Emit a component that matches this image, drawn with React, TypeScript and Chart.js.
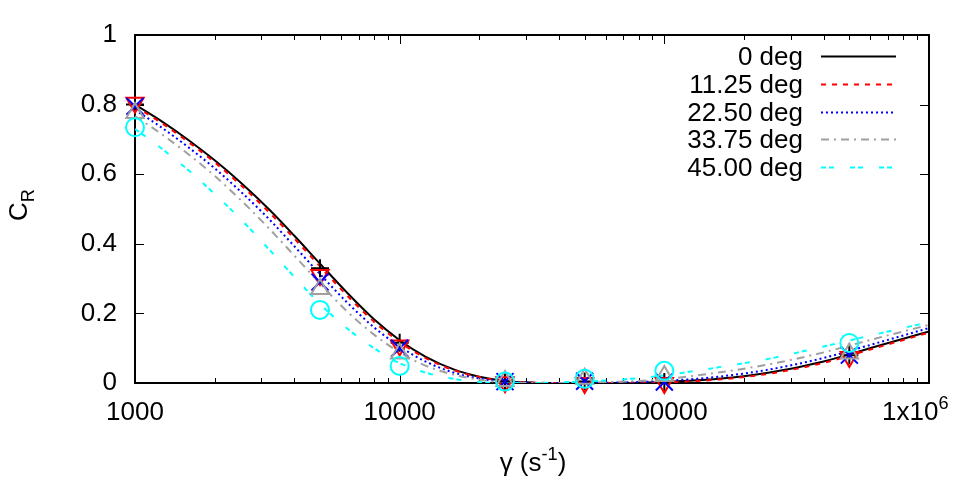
import React, { useEffect, useRef } from 'react';
import { Chart, registerables } from 'chart.js';

Chart.register(...registerables);

const FONT = '"Liberation Sans", Arial, Helvetica, sans-serif';

const SERIES_NAMES = ['0 deg', '11.25 deg', '22.50 deg', '33.75 deg', '45.00 deg'];
const SERIES_COLORS = ['#000000', '#ff0000', '#0000ff', '#a0a0a0', '#00ffff'];

// smooth fitted curves
const CURVE_X = [1000, 1250, 1600, 2000, 2500, 3200, 4000, 5000, 6300, 8000, 10000, 12500, 16000, 20000, 25000, 32000, 40000, 50000, 63000, 80000, 100000, 160000, 250000, 400000, 630000, 1000000];
const CURVE_0 = [0.80, 0.754, 0.697, 0.640, 0.577, 0.500, 0.423, 0.343, 0.261, 0.183, 0.123, 0.076, 0.039, 0.018, 0.006, 0.001, 0.0, 0.0, 0.0, 0.001, 0.003, 0.012, 0.03, 0.062, 0.105, 0.148];
const CURVE_1125 = [0.795, 0.749, 0.691, 0.634, 0.570, 0.492, 0.415, 0.335, 0.253, 0.176, 0.118, 0.072, 0.037, 0.017, 0.005, 0.001, 0.0, 0.0, 0.0, 0.0005, 0.002, 0.010, 0.027, 0.058, 0.101, 0.145];
const CURVE_2250 = [0.785, 0.736, 0.676, 0.617, 0.551, 0.472, 0.393, 0.313, 0.233, 0.160, 0.105, 0.062, 0.030, 0.013, 0.0035, 0.0005, 0.0, 0.0, 0.001, 0.003, 0.006, 0.018, 0.039, 0.072, 0.114, 0.158];
const CURVE_3375 = [0.767, 0.717, 0.656, 0.595, 0.527, 0.445, 0.366, 0.286, 0.207, 0.139, 0.088, 0.050, 0.024, 0.0096, 0.002, 0.0, 0.0, 0.001, 0.003, 0.006, 0.011, 0.030, 0.054, 0.088, 0.128, 0.167];
const CURVE_4500 = [0.730, 0.676, 0.610, 0.543, 0.472, 0.385, 0.305, 0.227, 0.158, 0.100, 0.057, 0.030, 0.012, 0.003, 0.0, 0.0, 0.002, 0.004, 0.008, 0.014, 0.022, 0.045, 0.070, 0.105, 0.140, 0.175];

// measured points
const POINT_X = [1000, 5000, 10000, 25000, 50000, 100000, 500000];
const POINT_0 = [0.80, 0.33, 0.116, 0.004, 0.004, 0.003, 0.08];
const POINT_1125 = [0.805, 0.31, 0.108, 0.002, 0.0, 0.0, 0.075];
const POINT_2250 = [0.795, 0.29, 0.10, 0.004, 0.005, 0.003, 0.08];
const POINT_3375 = [0.776, 0.27, 0.085, 0.006, 0.012, 0.02, 0.085];
const POINT_4500 = [0.735, 0.21, 0.049, 0.004, 0.012, 0.035, 0.115];

const X_TICK_VALUES = [1000, 10000, 100000, 1000000];
const X_TICK_LABELS = ['1000', '10000', '100000', '1x10^6'];
const Y_TICK_VALUES = [0, 0.2, 0.4, 0.6, 0.8, 1];

const X_TITLE = 'γ (s^-1)';
const Y_TITLE = 'C_R';

const CURVES = [CURVE_0, CURVE_1125, CURVE_2250, CURVE_3375, CURVE_4500];
const POINTS = [POINT_0, POINT_1125, POINT_2250, POINT_3375, POINT_4500];
const DASHES: number[][] = [[], [5, 6], [2, 3], [8, 5, 2, 5], [5, 3, 5, 16]];
const MARKERS = ['cross', 'triangle', 'crossRot', 'triangle', 'circle'];
const MARKER_ROT = [0, 180, 0, 0, 0];
const MARKER_R = [9, 10, 12, 10, 9];

type Seg = { t: string; k: '' | 'sup' | 'sub' };
function parseRich(s: string): Seg[] {
  const out: Seg[] = [];
  let i = 0;
  let cur = '';
  while (i < s.length) {
    const c = s[i];
    if (c === '^' || c === '_') {
      if (cur) out.push({ t: cur, k: '' });
      cur = '';
      let j = i + 1;
      let sub = '';
      while (j < s.length && s[j] !== ')' && s[j] !== ' ') { sub += s[j]; j++; }
      out.push({ t: sub, k: c === '^' ? 'sup' : 'sub' });
      i = j;
      continue;
    }
    cur += c;
    i++;
  }
  if (cur) out.push({ t: cur, k: '' });
  return out;
}

function richWidth(ctx: CanvasRenderingContext2D, segs: Seg[], size: number) {
  return segs.map((s) => {
    ctx.font = `${s.k ? size * 0.7 : size}px ${FONT}`;
    return ctx.measureText(s.t).width;
  });
}

function drawRich(ctx: CanvasRenderingContext2D, text: string, x: number, y: number, size: number, align: string) {
  const segs = parseRich(text);
  const widths = richWidth(ctx, segs, size);
  const total = widths.reduce((a, b) => a + b, 0);
  let start = x;
  if (align === 'center') start = x - total / 2;
  else if (align === 'right') start = x - total;
  ctx.save();
  ctx.fillStyle = '#000';
  ctx.textBaseline = 'alphabetic';
  ctx.textAlign = 'left';
  let off = start;
  segs.forEach((s, i) => {
    ctx.font = `${s.k ? size * 0.7 : size}px ${FONT}`;
    const dy = s.k === 'sup' ? -size * 0.42 : s.k === 'sub' ? size * 0.25 : 0;
    ctx.fillText(s.t, off, y + dy);
    off += widths[i];
  });
  ctx.restore();
}

const gnuplotPlugin = {
  id: 'gnuplotLook',
  beforeDatasetsDraw(chart: any) {
    const { ctx, chartArea } = chart;
    const { left, right, top, bottom } = chartArea;
    const xs = chart.scales.x;
    const ys = chart.scales.y;
    ctx.save();
    ctx.strokeStyle = '#000';
    ctx.lineWidth = 1;
    ctx.beginPath();
    Y_TICK_VALUES.forEach((v) => {
      const py = Math.round(ys.getPixelForValue(v)) + 0.5;
      ctx.moveTo(left, py); ctx.lineTo(left + 9, py);
      ctx.moveTo(right, py); ctx.lineTo(right - 9, py);
    });
    for (let d = 1000; d <= 1000000; d *= 10) {
      for (let m = 1; m <= 9; m++) {
        const v = m * d;
        if (v > 1000000) break;
        const px = Math.round(xs.getPixelForValue(v)) + 0.5;
        const len = m === 1 ? 9 : 5;
        ctx.moveTo(px, bottom); ctx.lineTo(px, bottom - len);
        ctx.moveTo(px, top); ctx.lineTo(px, top + len);
      }
    }
    ctx.stroke();
    ctx.lineWidth = 2;
    ctx.strokeRect(left, top, right - left, bottom - top);
    ctx.restore();
  },
  afterDraw(chart: any) {
    const { ctx } = chart;
    const xs = chart.scales.x;
    // x tick labels
    X_TICK_VALUES.forEach((v, i) => {
      const px = xs.getPixelForValue(v);
      const lbl = X_TICK_LABELS[i];
      if (lbl.includes('^')) {
        drawRich(ctx, lbl, px - 47, 420, 26, 'left');
      } else {
        drawRich(ctx, lbl, px, 420, 26, 'center');
      }
    });
    // x title
    drawRich(ctx, X_TITLE, 533, 471, 26, 'center');
    // y title (rotated)
    ctx.save();
    ctx.translate(27, 205);
    ctx.rotate(-Math.PI / 2);
    drawRich(ctx, Y_TITLE, 0, 0, 26, 'center');
    ctx.restore();
    // legend
    SERIES_NAMES.forEach((name, i) => {
      const cy = 56 + i * 27.8;
      drawRich(ctx, name, 803, cy + 9, 26, 'right');
      ctx.save();
      ctx.strokeStyle = SERIES_COLORS[i];
      ctx.lineWidth = 2;
      ctx.setLineDash(DASHES[i]);
      ctx.beginPath();
      ctx.moveTo(821, Math.round(cy) + 0.5);
      ctx.lineTo(896, Math.round(cy) + 0.5);
      ctx.stroke();
      ctx.restore();
    });
  },
};

export default function App() {
  const ref = useRef<HTMLCanvasElement | null>(null);
  useEffect(() => {
    document.body.style.margin = '0';
    const canvas = ref.current;
    if (!canvas) return;
    const datasets: any[] = [];
    CURVES.forEach((c, i) => {
      datasets.push({
        label: SERIES_NAMES[i],
        data: CURVE_X.map((x, j) => ({ x, y: c[j] })),
        showLine: true,
        borderColor: SERIES_COLORS[i],
        borderWidth: 2,
        borderDash: DASHES[i],
        pointRadius: 0,
        cubicInterpolationMode: 'monotone',
        fill: false,
        order: 10 - i,
      });
    });
    POINTS.forEach((p, i) => {
      datasets.push({
        label: SERIES_NAMES[i] + ' pts',
        data: POINT_X.map((x, j) => ({ x, y: p[j] })),
        showLine: false,
        pointStyle: MARKERS[i],
        pointRotation: MARKER_ROT[i],
        pointRadius: MARKER_R[i],
        pointBorderColor: SERIES_COLORS[i],
        pointBackgroundColor: 'rgba(0,0,0,0)',
        pointBorderWidth: 2,
        borderColor: SERIES_COLORS[i],
        clip: false,
        order: 5 - i,
      });
    });
    const chart = new Chart(canvas, {
      type: 'scatter',
      data: { datasets },
      options: {
        animation: false,
        responsive: false,
        devicePixelRatio: 1,
        layout: { padding: { top: 35, right: 50, left: 0, bottom: 0 } },
        plugins: { legend: { display: false }, tooltip: { enabled: false } },
        scales: {
          x: {
            type: 'logarithmic',
            min: 1000,
            max: 1000000,
            grid: { display: false, drawTicks: false },
            border: { display: false },
            ticks: { display: false },
            afterFit: (s: any) => { s.height = 117; },
          },
          y: {
            type: 'linear',
            min: 0,
            max: 1,
            grid: { display: false, drawTicks: false },
            border: { display: false },
            ticks: {
              stepSize: 0.2,
              padding: 18,
              color: '#000',
              font: { family: FONT, size: 26 },
              callback: (v: any) => String(Math.round(Number(v) * 10) / 10),
            },
            afterFit: (s: any) => { s.width = 135; },
          },
        },
      },
      plugins: [gnuplotPlugin],
    });
    return () => chart.destroy();
  }, []);
  return (
    <div style={{ width: 979, height: 500, background: '#fff' }}>
      <canvas ref={ref} width={979} height={500} />
    </div>
  );
}
